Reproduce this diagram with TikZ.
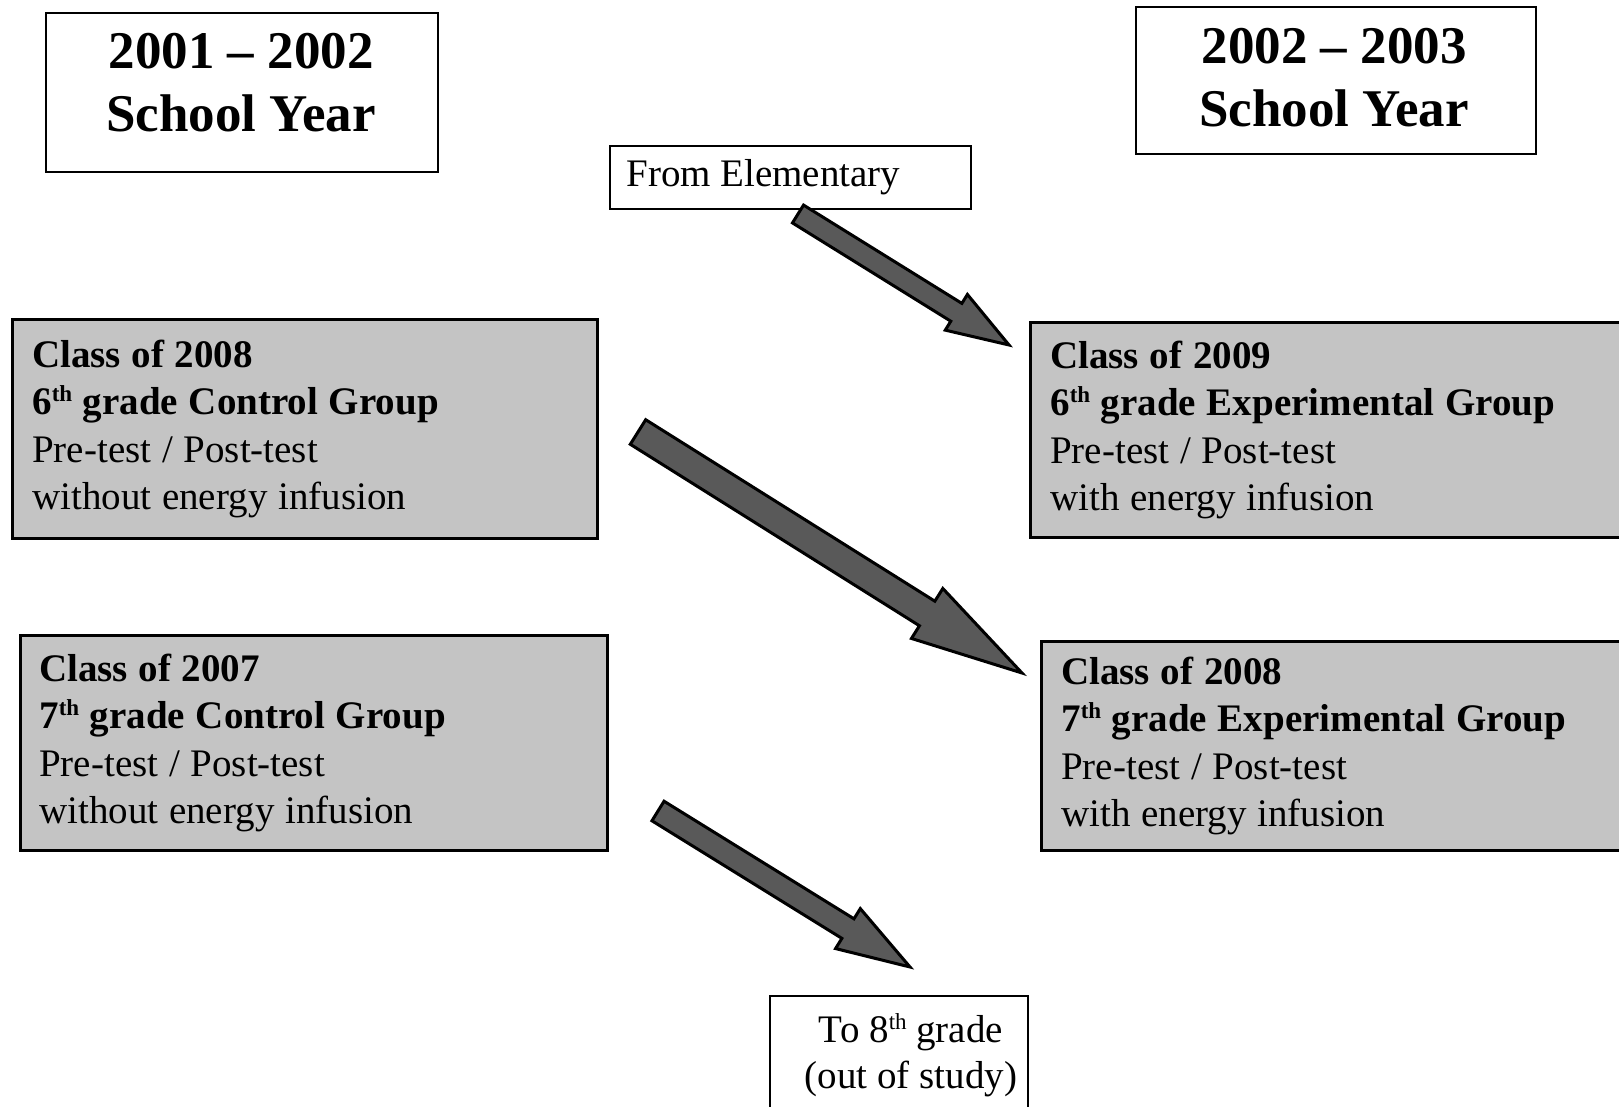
\documentclass[tikz,border=0pt]{standalone}
\usepackage{fontspec}
\setmainfont{Liberation Serif}
\usetikzlibrary{calc}
\newcommand\supth[1]{\raisebox{0.33em}{\fontsize{23}{23}\selectfont #1}}
\newcommand\tightsp{\spaceskip=0.24em plus 0.05em\relax}
\newcommand\boxsp{\spaceskip=0.275em plus 0.05em\relax}
\tikzset{
  yearbox/.style={draw=black, line width=1.5pt, rectangle, inner sep=0pt},
  yeartext/.style={align=center, inner sep=0pt, font=\fontsize{53}{63}\selectfont\bfseries},
  plainbox/.style={draw=black, line width=1.5pt, rectangle, inner sep=0pt},
  plaintext/.style={align=center, inner sep=0pt, font=\fontsize{39}{46}\selectfont},
  classbox/.style={draw=black, line width=2.5pt, fill=black!23, rectangle, anchor=north west,
    align=left, inner ysep=0pt, inner xsep=20pt, font=\fontsize{39}{47.5}\selectfont},
  barrow/.style={draw=black, line width=3pt, fill=black!65, line join=miter},
}
\newcommand\blockarr[5]{%
  \path ($(#2)!#5!(#1)$) coordinate (hb);
  \filldraw[barrow] ($(#1)!#3!90:(#2)$) -- ($(hb)!#3!-90:(#1)$) -- ($(hb)!#4!-90:(#1)$)
    -- (#2) -- ($(hb)!#4!90:(#1)$) -- ($(hb)!#3!90:(#1)$) -- ($(#1)!#3!-90:(#2)$) -- cycle;}
\begin{document}
\begin{tikzpicture}[x=1pt, y=-1pt]
\useasboundingbox (0,0) rectangle (1619,1107);
\fill[white] (0,0) rectangle (1619,1107);

% year headings
\node[yearbox, minimum width=392, minimum height=159] (y1) at (242,92.5) {};
\node[yeartext] (y1t) at (241,83) {2001 -- 2002\\School Year};
\node[yearbox, minimum width=400, minimum height=147] (y2) at (1336,80.5) {};
\node[yeartext] (y2t) at (1334,78) {2002 -- 2003\\School Year};

% from elementary
\node[plainbox, anchor=west, minimum width=361, minimum height=63, text width=327,
  inner xsep=17pt, align=left, font=\fontsize{39}{46}\selectfont] (fe) at (609,177.5) {\tightsp From Elementary};

% class boxes
\node[classbox, minimum width=585, minimum height=219, text width=545] (l1) at (11,318)
  {\boxsp\textbf{Class of 2008}\\\textbf{6\supth{th} grade Control Group}\\Pre-test / Post-test\\without energy infusion};
\node[classbox, minimum width=640, minimum height=215, text width=600] (r1) at (1029,321)
  {\boxsp\textbf{Class of 2009}\\\textbf{6\supth{th} grade Experimental Group}\\Pre-test / Post-test\\with energy infusion};
\node[classbox, minimum width=587, minimum height=215, text width=549, inner xsep=19pt] (l2) at (19,634)
  {\boxsp\textbf{Class of 2007}\\\textbf{7\supth{th} grade Control Group}\\Pre-test / Post-test\\without energy infusion};
\node[classbox, minimum width=640, minimum height=209, text width=600] (r2) at (1040,640)
  {\boxsp\textbf{Class of 2008}\\\textbf{7\supth{th} grade Experimental Group}\\Pre-test / Post-test\\with energy infusion};

% out of study
\node[plainbox, anchor=north west, minimum width=258, minimum height=140] (b8) at (769,995) {};
\node[plaintext] (b8t) at (911,1055) {To 8\supth{th} grade\\(out of study)};

% arrows
\coordinate (a1s) at (798,214);
\coordinate (a1e) at (1009,345);
\coordinate (a2s) at (638,432);
\coordinate (a2e) at (1022,673);
\coordinate (a3s) at (658,811);
\coordinate (a3e) at (910,967);
\blockarr{a1s}{a1e}{10.5pt}{21pt}{62pt}
\blockarr{a2s}{a2e}{14.5pt}{29.5pt}{112pt}
\blockarr{a3s}{a3e}{11.5pt}{23.5pt}{73pt}
\end{tikzpicture}
\end{document}
